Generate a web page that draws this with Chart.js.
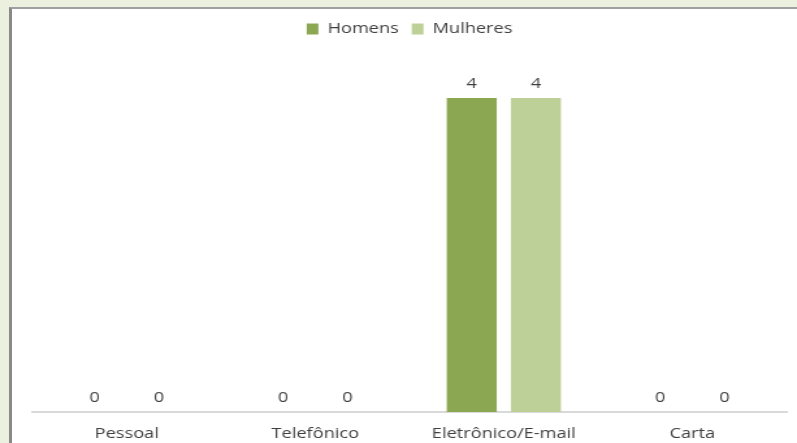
<!DOCTYPE html>
<html>
<head>
<meta charset="utf-8">
<script src="https://cdn.jsdelivr.net/npm/chart.js@4"></script>
<style>
  html, body { margin: 0; padding: 0; background: #ebf1de; }
  #panel {
    position: absolute; left: 9px; top: 7px; width: 788px; height: 436px;
    background: #fff; border-left: 3px solid #8a8a8a; border-top: 2px solid #a0a0a0;
    box-sizing: border-box;
  }
  #wrap { position: absolute; left: 0; top: 0; width: 797px; height: 443px; }
</style>
</head>
<body>
<div id="panel"></div>
<!-- the picture is stretched sideways, so the canvas is drawn narrow and widened by css -->
<div id="wrap"><canvas id="myChart" width="613" height="443" style="width:797px;height:443px"></canvas></div>
<script>
var categories = ['Pessoal', 'Telefônico', 'Eletrônico/E-mail', 'Carta'];
var homens = [0, 0, 4, 0];
var mulheres = [0, 0, 4, 0];

const legendSpace = {
    id: 'legendSpace',
    beforeInit(chart) {
        // more room between legend and bars
        const origFit = chart.legend.fit;
        chart.legend.fit = function() {
            origFit.call(this);
            this.height += 52;
        };
    }
};

// draw value labels over each bar
const valueLabels = {
    id: 'valueLabels',
    afterDatasetsDraw(chart) {
        const ctx = chart.ctx;
        ctx.save();
        ctx.font = '14px "Open Sans"';
        ctx.fillStyle = '#404040';
        ctx.textAlign = 'center';
        ctx.textBaseline = 'middle';
        chart.data.datasets.forEach(function(ds, i) {
            chart.getDatasetMeta(i).data.forEach(function(bar, j) {
                ctx.fillText(ds.data[j], bar.x, bar.y - 14);
            });
        });
        ctx.restore();
    }
};

const ctx = document.getElementById('myChart').getContext('2d');
const myChart = new Chart(ctx, {
    type: 'bar',
    data: {
        labels: categories,
        datasets: [
            {
                label: 'Homens',
                data: homens,
                backgroundColor: '#8ca752'
            },
            {
                label: 'Mulheres',
                data: mulheres,
                backgroundColor: '#bcd098'
            }
        ]
    },
    options: {
        responsive: false,
        animation: false,
        devicePixelRatio: 1,
        categoryPercentage: 0.68,
        barPercentage: 0.78,
        layout: {
            padding: { left: 25, right: 8, top: 12, bottom: 0 }
        },
        plugins: {
            legend: {
                position: 'top',
                labels: {
                    boxWidth: 9,
                    boxHeight: 11,
                    padding: 10,
                    color: '#404040',
                    font: { family: '"Open Sans"', size: 14 }
                }
            },
            tooltip: { enabled: false }
        },
        scales: {
            x: {
                grid: { display: false, drawTicks: false },
                border: { color: '#d9d9d9', width: 2 },
                ticks: {
                    color: '#404040',
                    padding: 14,
                    font: { family: '"Open Sans"', size: 14 }
                },
                afterFit: function(scale) {
                    scale.height = 31;
                }
            },
            y: {
                display: false,
                beginAtZero: true,
                max: 4
            }
        }
    },
    plugins: [legendSpace, valueLabels]
});
</script>
</body>
</html>
